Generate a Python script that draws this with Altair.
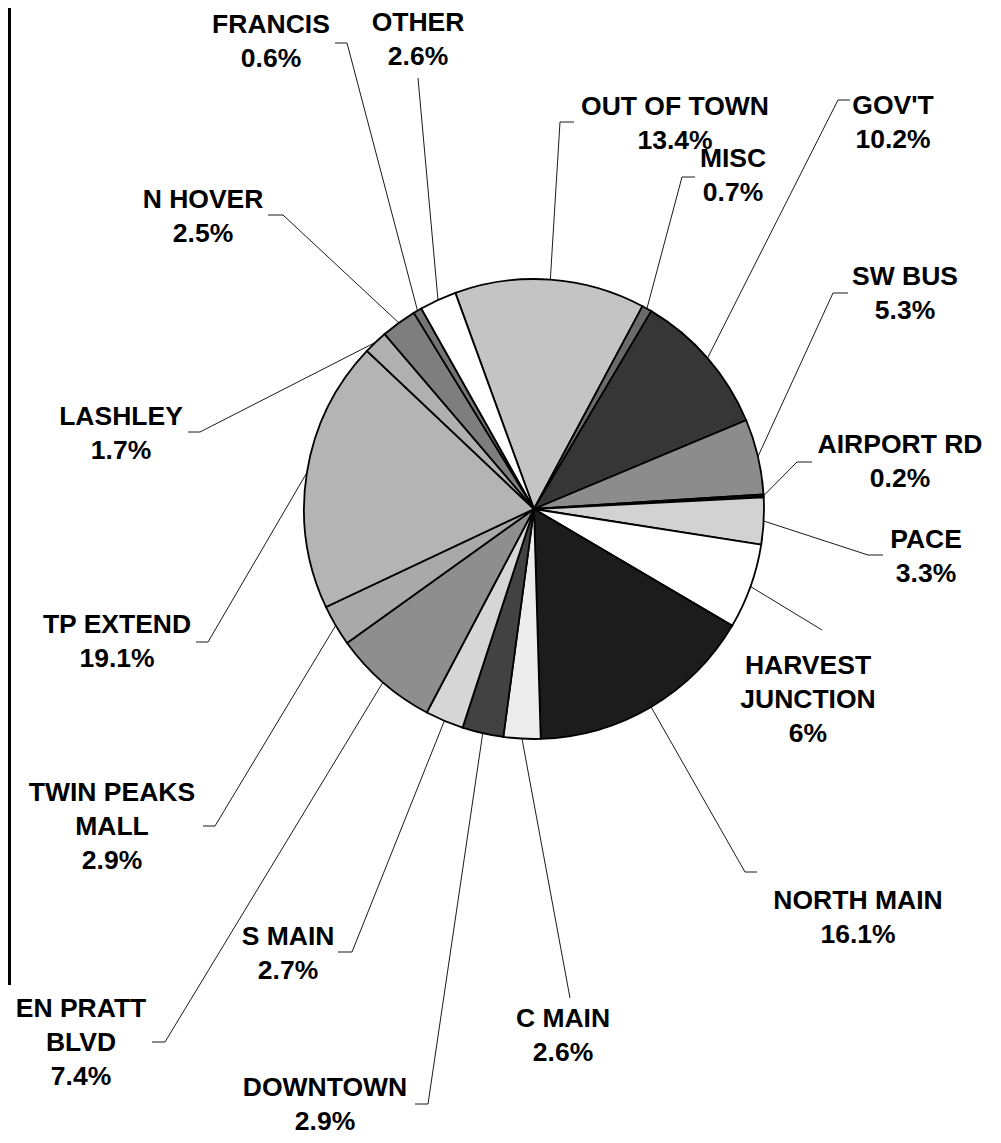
import math
import altair as alt
import pandas as pd

# ---------------- data ----------------
names = ["OUT OF TOWN", "MISC", "GOV'T", "SW BUS", "AIRPORT RD", "PACE",
         "HARVEST JUNCTION", "NORTH MAIN", "C MAIN", "DOWNTOWN", "S MAIN",
         "EN PRATT BLVD", "TWIN PEAKS MALL", "TP EXTEND", "LASHLEY",
         "N HOVER", "FRANCIS", "OTHER"]
label_names = ["OUT OF TOWN", "MISC", "GOV'T", "SW BUS", "AIRPORT RD", "PACE",
               "HARVEST\nJUNCTION", "NORTH MAIN", "C MAIN", "DOWNTOWN", "S MAIN",
               "EN PRATT\nBLVD", "TWIN PEAKS\nMALL", "TP EXTEND", "LASHLEY",
               "N HOVER", "FRANCIS", "OTHER"]
values = [13.4, 0.7, 10.2, 5.3, 0.2, 3.3, 6, 16.1, 2.6, 2.9, 2.7, 7.4, 2.9,
          19.1, 1.7, 2.5, 0.6, 2.6]

# ---------------- styles (grey tones standing in for the print patterns) ----
fills = ["#c4c4c4", "#6a6a6a", "#363636", "#8c8c8c", "#111111", "#d2d2d2",
         "#ffffff", "#1c1c1c", "#ececec", "#424242", "#d6d6d6", "#8e8e8e",
         "#a9a9a9", "#b4b4b4", "#b0b0b0", "#7e7e7e", "#747474", "#ffffff"]

# ---------------- layout (page pixels) ----------------
label_x = [675, 733, 893, 905, 900, 926, 808, 858, 563, 325, 288, 81, 112,
           117, 121, 203, 271, 418]
label_y = [115, 167, 114, 285, 453, 548, 674, 909, 1027, 1096, 945, 1017, 801,
           633, 425, 208, 33, 31]
elbow_x = [560, 682, 838, 833, 797, 868, 822, 745, 570, 428, 352, 165, 215,
           208, 200, 283, 347, 418]
elbow_y = [122, 177, 100, 293, 462, 555, 630, 872, 998, 1104, 952, 1042, 826,
           642, 432, 215, 43, 78]
tail_x = [574, 695, 850, 848, 812, 883, 822, 757, 570, 415, 338, 152, 203,
          196, 188, 268, 335, 418]
tail_y = [122, 177, 100, 293, 462, 555, 630, 872, 998, 1104, 952, 1042, 826,
          642, 432, 215, 43, 78]

PAGE_W, PAGE_H = 1001, 1143
M = 8
W, H = PAGE_W - 2 * M, PAGE_H - 2 * M
CX, CY, R = 534, 509, 230
START_DEG = -20.0

total = sum(values)
pie_df = pd.DataFrame({
    "idx": list(range(len(values))),
    "name": names,
    "value": values,
    "fill": fills,
})

# leader-line points: slice edge (from data) -> elbow -> tail
rows = []
cum = 0.0
labels = []
for i, v in enumerate(values):
    mid = math.radians(START_DEG + (cum + v / 2.0) / total * 360.0)
    cum += v
    ex = CX + R * math.sin(mid)
    ey = CY - R * math.cos(mid)
    rows.append({"key": names[i], "ord": 0, "px": ex, "py": ey})
    rows.append({"key": names[i], "ord": 1, "px": elbow_x[i], "py": elbow_y[i]})
    rows.append({"key": names[i], "ord": 2, "px": tail_x[i], "py": tail_y[i]})
    labels.append({"lx": label_x[i], "ly": label_y[i],
                   "label": f"{label_names[i]}\n{v:g}%"})
line_df = pd.DataFrame(rows)
label_df = pd.DataFrame(labels)

xs = alt.Scale(domain=[M, PAGE_W - M], nice=False, zero=False)
ys = alt.Scale(domain=[M, PAGE_H - M], nice=False, zero=False, reverse=True)

start_rad = math.radians(START_DEG)

pie = alt.Chart(pie_df).mark_arc(
    outerRadius=R, stroke="black", strokeWidth=1.8
).encode(
    theta=alt.Theta("value:Q", stack=True,
                    scale=alt.Scale(range=[start_rad, start_rad + 2 * math.pi])),
    order=alt.Order("idx:Q"),
    fill=alt.Fill("fill:N", scale=None),
    x=alt.value(CX - M),
    y=alt.value(CY - M),
)

leaders = alt.Chart(line_df).mark_line(color="#1a1a1a", strokeWidth=1).encode(
    x=alt.X("px:Q", scale=xs, axis=None),
    y=alt.Y("py:Q", scale=ys, axis=None),
    detail="key:N",
    order="ord:Q",
)

texts = alt.Chart(label_df).mark_text(
    font="Liberation Sans", fontWeight="bold", fontSize=26.5, lineBreak="\n",
    lineHeight=34, align="center", baseline="alphabetic", color="black"
).encode(
    x=alt.X("lx:Q", scale=xs, axis=None),
    y=alt.Y("ly:Q", scale=ys, axis=None),
    text="label:N",
)

frame = alt.Chart(pie_df).mark_rule(color="black", strokeWidth=2).encode(
    x=alt.value(1.5), y=alt.value(0), y2=alt.value(985 - M)
)

chart = alt.layer(leaders, pie, texts, frame).properties(
    width=W, height=H, autosize="none", padding=0, background="white"
).configure_view(stroke=None)

chart.save("out.html", embed_options={"renderer": "svg", "actions": False})
